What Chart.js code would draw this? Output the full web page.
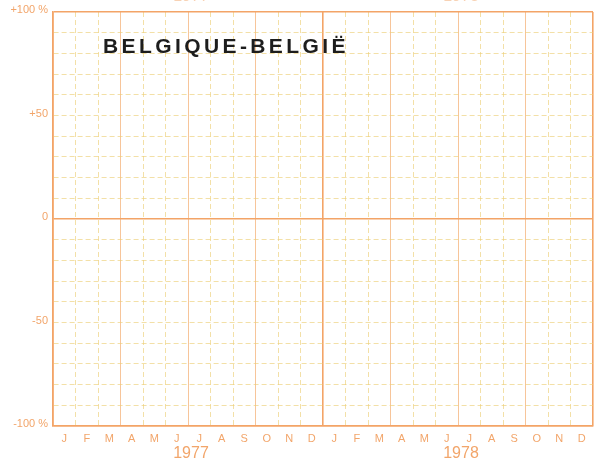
<!DOCTYPE html>
<html>
<head>
<meta charset="utf-8">
<script src="https://cdn.jsdelivr.net/npm/chart.js@4.4.0/dist/chart.umd.min.js"></script>
<style>
  html, body { margin: 0; padding: 0; background: #ffffff; }
  #wrap { position: relative; width: 597px; height: 470px; }
</style>
</head>
<body>
<div id="wrap"><canvas id="chart"></canvas></div>
<script>
const TITLE = "BELGIQUE-BELGIË";
const MONTHS = ["J", "F", "M", "A", "M", "J", "J", "A", "S", "O", "N", "D",
                "J", "F", "M", "A", "M", "J", "J", "A", "S", "O", "N", "D"];
const YEARS = ["1977", "1978"];
const Y_TICK_VALUES = [100, 50, 0, -50, -100];
const Y_TICK_LABELS = ["+100 %", "+50", "0", "-50", "-100 %"];

const ORANGE = "#f3a467";
const ORANGE_SOFT = "rgba(244, 178, 120, 0.75)";
const PALE = "rgba(236, 208, 120, 0.65)";
const LABEL = "#f2a56a";
const FONT = "'Liberation Sans', Arial, sans-serif";

// title printed inside the plot frame, plus the year labels of the panel above, cut by the page edge
const titlePlugin = {
  id: "panelTitle",
  afterDraw(chart) {
    const { ctx, chartArea } = chart;
    ctx.save();
    ctx.font = "bold 21px " + FONT;
    ctx.letterSpacing = "3.4px";
    ctx.fillStyle = "#1d1d1d";
    ctx.textBaseline = "alphabetic";
    ctx.fillText(TITLE, chartArea.left + 50, chartArea.top + 41);

    const yearScale = chart.scales.xYear;
    ctx.letterSpacing = "0px";
    ctx.font = "16px " + FONT;
    ctx.fillStyle = "rgba(242, 165, 106, 0.5)";
    ctx.textAlign = "center";
    ctx.textBaseline = "alphabetic";
    YEARS.forEach((y, i) => {
      ctx.fillText(y, yearScale.getPixelForValue(i) + 3, 1);
    });
    ctx.restore();
  },
};

new Chart(document.getElementById("chart"), {
  type: "line",
  data: { datasets: [] },
  options: {
    responsive: true,
    maintainAspectRatio: false,
    animation: false,
    layout: { padding: { left: 0, right: 4, top: 12, bottom: 6 } },
    plugins: { legend: { display: false }, tooltip: { enabled: false } },
    scales: {
      x: {
        type: "linear",
        min: 0,
        max: MONTHS.length,
        weight: 0,
        ticks: { stepSize: 1, display: false },
        grid: {
          drawTicks: false,
          color: (c) => {
            const v = c.tick ? c.tick.value : 0;
            if (v === 0 || v === MONTHS.length || v === 12) return ORANGE;
            if (v % 3 === 0) return ORANGE_SOFT;
            return PALE;
          },
          lineWidth: (c) => {
            const v = c.tick ? c.tick.value : 0;
            return (v === 0 || v === MONTHS.length || v === 12) ? 1.6 : 1;
          },
        },
        border: {
          color: ORANGE,
          width: 1.6,
          dash: (c) => {
            const v = c.tick ? c.tick.value : 0;
            return v % 3 === 0 ? [] : [5, 3];
          },
        },
        afterFit: (s) => { s.height = 0; },
      },
      xMonth: {
        type: "category",
        labels: MONTHS,
        position: "bottom",
        offset: true,
        weight: 1,
        grid: { display: false, drawTicks: false },
        border: { display: false },
        ticks: {
          autoSkip: false,
          maxRotation: 0,
          padding: 6,
          color: LABEL,
          font: { family: FONT, size: 11 },
        },
        afterFit: (s) => { s.height = 20; },
      },
      xYear: {
        type: "category",
        labels: YEARS,
        position: "bottom",
        offset: true,
        weight: 2,
        grid: { display: false, drawTicks: false },
        border: { display: false },
        ticks: {
          autoSkip: false,
          maxRotation: 0,
          padding: -2,
          labelOffset: 3,
          color: LABEL,
          font: { family: FONT, size: 16 },
        },
        afterFit: (s) => { s.height = 18; },
      },
      y: {
        min: -100,
        max: 100,
        ticks: {
          stepSize: 10,
          padding: 5,
          labelOffset: -2,
          color: LABEL,
          font: { family: FONT, size: 11 },
          callback: (v) => {
            const i = Y_TICK_VALUES.indexOf(v);
            return i >= 0 ? Y_TICK_LABELS[i] : "";
          },
        },
        grid: {
          drawTicks: false,
          color: (c) => {
            const v = c.tick ? c.tick.value : 0;
            if (v === 0 || Math.abs(v) === 100) return ORANGE;
            return PALE;
          },
          lineWidth: (c) => {
            const v = c.tick ? c.tick.value : 0;
            return (v === 0 || Math.abs(v) === 100) ? 1.6 : 1;
          },
        },
        border: {
          color: ORANGE,
          width: 1.6,
          dash: (c) => {
            const v = c.tick ? c.tick.value : 0;
            return (v === 0 || Math.abs(v) === 100) ? [] : [5, 3];
          },
        },
        afterFit: (s) => { s.width = 53; },
      },
    },
  },
  plugins: [titlePlugin],
});
</script>
</body>
</html>
